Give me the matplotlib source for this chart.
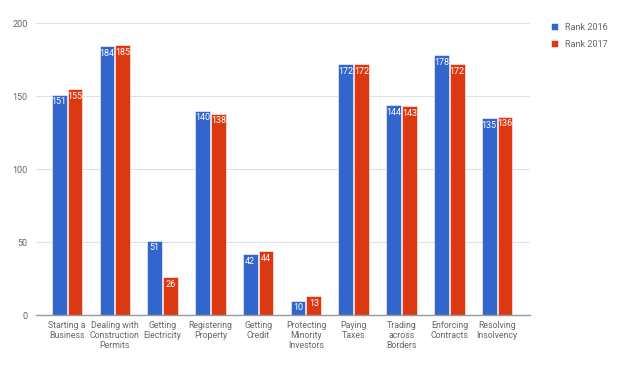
import numpy as np
import matplotlib
matplotlib.use("Agg")
import matplotlib.pyplot as plt

plt.rcParams["font.family"] = ["Roboto", "DejaVu Sans"]

CATEGORIES = [
    "Starting a\nBusiness", "Dealing with\nConstruction\nPermits", "Getting\nElectricity",
    "Registering\nProperty", "Getting\nCredit", "Protecting\nMinority\nInvestors",
    "Paying\nTaxes", "Trading\nacross\nBorders", "Enforcing\nContracts", "Resolving\nInsolvency",
]
RANK_2016 = [151, 184, 51, 140, 42, 10, 172, 144, 178, 135]
RANK_2017 = [155, 185, 26, 138, 44, 13, 172, 143, 172, 136]
Y_TICKS = [0, 50, 100, 150, 200]

BLUE = "#3366CC"
RED = "#DC3912"
GREY = "#666666"

fig = plt.figure(figsize=(6.2, 3.66), dpi=100)
ax = fig.add_axes([0.058, 0.139, 0.797, 0.798])

x = np.arange(len(CATEGORIES))
w = 0.31
gap = 0.01
series = [(RANK_2016, BLUE, "Rank 2016", -1), (RANK_2017, RED, "Rank 2017", 1)]
for vals, color, label, side in series:
    pos = x + side * (w / 2 + gap)
    bars = ax.bar(pos, vals, width=w, color=color, edgecolor="white",
                  linewidth=0.4, label=label, zorder=3)
    for b, v in zip(bars, vals):
        ax.annotate(str(v), xy=(b.get_x() + b.get_width() / 2, v),
                    xytext=(0, -2), textcoords="offset points",
                    ha="center", va="top", fontsize=6.5, color="white", zorder=4)

ax.set_xlim(-0.65, 9.69)
ax.set_ylim(0, 200)
ax.set_yticks(Y_TICKS)
ax.set_yticklabels([str(t) for t in Y_TICKS])
ax.set_xticks(x)
ax.set_xticklabels(CATEGORIES, fontsize=6.3, color=GREY, linespacing=1.2)
ax.tick_params(axis="y", labelsize=6.5, labelcolor=GREY, length=0, pad=6)
ax.tick_params(axis="x", length=0, pad=4)
ax.grid(axis="y", color="#e0e0e0", linewidth=0.8, zorder=0)
for s in ["top", "right", "left"]:
    ax.spines[s].set_visible(False)
ax.spines["bottom"].set_color("#999999")
ax.spines["bottom"].set_linewidth(1.0)
ax.spines["bottom"].set_zorder(5)

leg = fig.legend(loc="upper left", bbox_to_anchor=(0.875, 0.96), frameon=False,
                 fontsize=6.5, handlelength=0.8, handleheight=0.8,
                 handletextpad=0.8, labelspacing=0.9)
for t in leg.get_texts():
    t.set_color(GREY)

fig.savefig("out.png", dpi=100)
